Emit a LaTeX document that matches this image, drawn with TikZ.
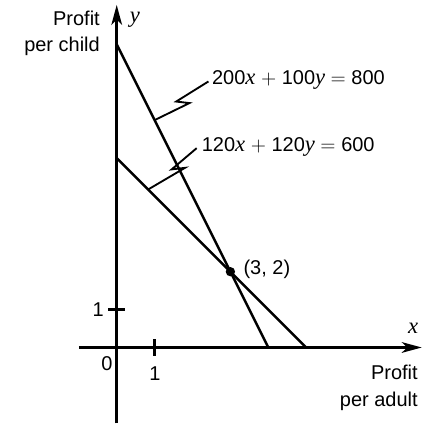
\RequirePackage{fix-cm}
\documentclass[tikz,border=0pt]{standalone}
\usepackage{fontspec}
\setmainfont{Liberation Sans}
\newfontfamily\varfont{Liberation Serif}
\newcommand{\var}[1]{{\varfont\itshape\fontsize{17}{18}\selectfont #1}}
\usetikzlibrary{arrows.meta, calc}

\begin{document}
\begin{tikzpicture}[x=1cm, y=1cm,
  axis/.style={line width=2pt, -{Stealth[length=15pt, width=8pt, inset=4pt]}},
  boundary/.style={line width=1.9pt},
  pointer/.style={line width=1.4pt, line join=miter},
  lbl/.style={font=\fontsize{15}{18}\selectfont, inner sep=0pt},
]
  \useasboundingbox (-3.08,-2.04) rectangle (8.32,9.17);
  % axes
  \coordinate (xmin) at (-1,0);
  \coordinate (xmax) at (8.05,0);
  \coordinate (ymin) at (0,-2);
  \coordinate (ymax) at (0,9.04);
  \draw[axis] (xmin) -- (xmax);
  \draw[axis] (ymin) -- (ymax);
  % unit ticks
  \draw[line width=1.8pt] (1,-0.22) -- (1,0.22);
  \draw[line width=1.8pt] (-0.22,1) -- (0.22,1);
  % 200x+100y=800 : (0,8)-(4,0),  120x+120y=600 : (0,5)-(5,0)
  \coordinate (A) at (0,8);
  \coordinate (B) at (4,0);
  \coordinate (C) at (0,5);
  \coordinate (D) at (5,0);
  \coordinate (P) at (3,2);
  \draw[boundary] (A) -- (B);
  \draw[boundary] (C) -- (D);
  \fill (P) circle (3.5pt);
  % equation labels with bolt pointers
  \coordinate (ta) at ($(A)!0.25!(B)$);
  \coordinate (tb) at ($(C)!0.166!(D)$);
  \node[lbl, anchor=base west] (eqa) at (2.51,6.93) {200\var{x} $+$ 100\var{y} $=$ 800};
  \node[lbl, anchor=base west] (eqb) at (2.24,5.17) {120\var{x} $+$ 120\var{y} $=$ 600};
  \draw[pointer] (ta) -- ++(0.92,0.45) -- ++(-0.35,0.04)
    -- ([shift={(-0.09,0.09)}]eqa.base west);
  \draw[pointer] (tb) -- ++(0.97,0.57) -- ++(-0.35,-0.04)
    -- ([shift={(-0.13,0.09)}]eqb.base west);
  % axis labels
  \node[lbl, anchor=base east] (pc1) at (-0.44,8.49) {Profit};
  \node[lbl, anchor=base east] (pc2) at (-0.44,7.81) {per child};
  \node[lbl, anchor=base] (ylab) at (0.48,8.57) {\var{y}};
  \node[lbl, anchor=base] (xlab) at (7.82,0.38) {\var{x}};
  \node[lbl, anchor=base east] (pa1) at (7.95,-0.85) {Profit};
  \node[lbl, anchor=base east] (pa2) at (7.95,-1.56) {per adult};
  \node[lbl] (zero) at (-0.26,-0.43) {0};
  \node[lbl] (onex) at (1.01,-0.69) {1};
  \node[lbl] (oney) at (-0.49,1.0) {1};
  \node[lbl, anchor=west] (pt) at (3.34,2.05) {(3, 2)};
\end{tikzpicture}
\end{document}
